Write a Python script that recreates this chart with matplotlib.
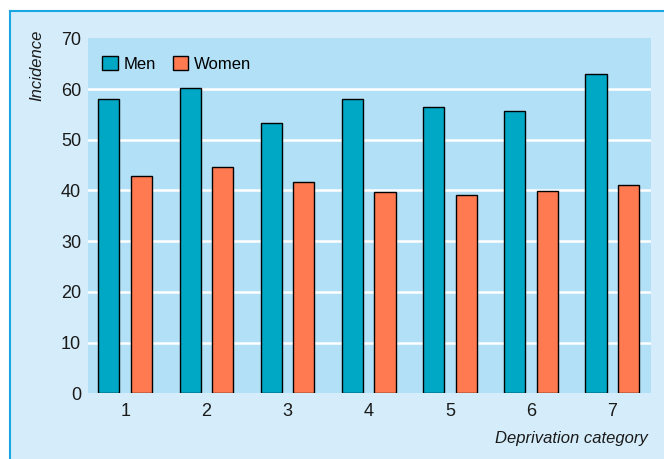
import matplotlib
matplotlib.use("Agg")
import matplotlib.pyplot as plt
from matplotlib.patches import Rectangle
import numpy as np

categories = ["1", "2", "3", "4", "5", "6", "7"]
men = [58.0, 60.2, 53.3, 58.0, 56.5, 55.7, 63.0]
women = [42.9, 44.7, 41.7, 39.7, 39.1, 39.9, 41.1]
yticks = [0, 10, 20, 30, 40, 50, 60, 70]

plt.rcParams['font.family'] = ["Liberation Sans", "DejaVu Sans"]

W, H = 664, 459
fig = plt.figure(figsize=(W / 100, H / 100), dpi=100)
fig.patch.set_facecolor("white")

panel_c = "#D5EDFA"
plot_c = "#B1E0F7"
men_c = "#00A8C6"
women_c = "#FF7A50"
border_c = "#1AA6E2"

# outer panel
fig.patches.append(Rectangle((10 / W, 0), 1.0, 1 - 11 / H, transform=fig.transFigure,
                             facecolor=panel_c, edgecolor="none", zorder=-10))
fig.lines.append(plt.Line2D([10 / W, 10 / W], [0, 1 - 11 / H], transform=fig.transFigure,
                            color=border_c, lw=1.5, zorder=-5))
fig.lines.append(plt.Line2D([10 / W, 1], [1 - 11 / H, 1 - 11 / H], transform=fig.transFigure,
                            color=border_c, lw=1.5, zorder=-5))

ax = fig.add_axes([88 / W, (H - 393.4) / H, (651 - 88) / W, (393.4 - 38.3) / H])
ax.set_zorder(5)
ax.set_facecolor(plot_c)
x = np.arange(1, len(categories) + 1)
bw = 0.26
ax.bar(x - 0.2, men, width=bw, color=men_c, edgecolor="black", linewidth=1.0, label="Men", zorder=3)
ax.bar(x + 0.2, women, width=bw, color=women_c, edgecolor="black", linewidth=1.0, label="Women", zorder=3)

ax.set_xlim(0.542, 7.477)
ax.set_ylim(0, 70)
ax.set_yticks(yticks)
ax.set_xticks(x)
ax.set_xticklabels(categories)
ax.tick_params(axis="both", length=0, labelsize=13, colors="#1a1a1a")
ax.tick_params(axis="y", pad=5)
ax.tick_params(axis="x", pad=7)
for yv in yticks[1:-1]:
    ax.axhline(yv, color="white", lw=1.8, zorder=1)
for s in ax.spines.values():
    s.set_visible(False)

leg = ax.legend(loc="upper left", frameon=False, ncol=2, fontsize=12,
                bbox_to_anchor=(-0.002, 0.993), handlelength=0.95, handleheight=0.95,
                columnspacing=1.0, handletextpad=0.35)

fig.text(37 / W, 1 - 30 / H, "Incidence", rotation=90, style="italic", fontsize=12,
         ha="center", va="top", color="#1a1a1a")
fig.text(648 / W, 1 - 438 / H, "Deprivation category", style="italic", fontsize=12,
         ha="right", va="center", color="#1a1a1a")

fig.savefig("out.png", dpi=100, facecolor=fig.get_facecolor())
